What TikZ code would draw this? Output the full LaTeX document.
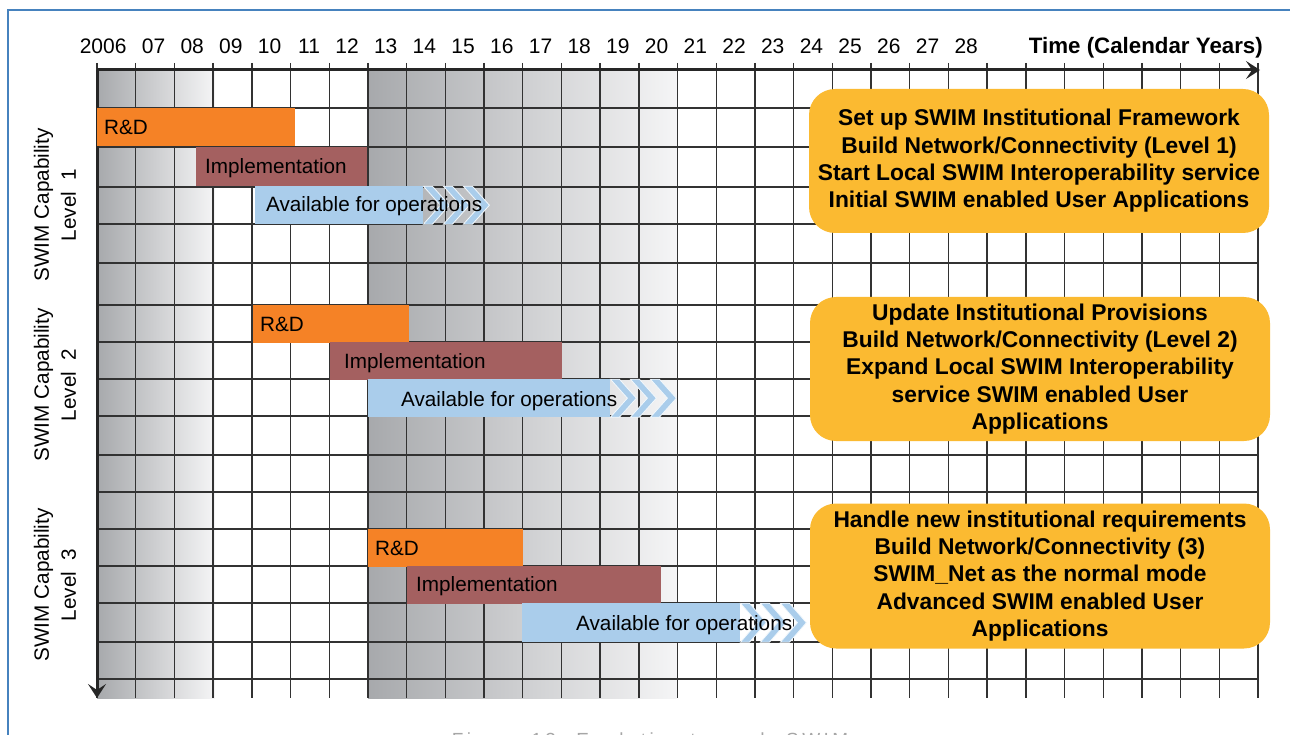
\documentclass[tikz,border=0pt]{standalone}
\usepackage{fontspec}
\setmainfont{Liberation Sans}
\newfontfamily\captionfont[LetterSpace=18]{Liberation Sans}
\usepackage{tikz}
\usetikzlibrary{positioning, arrows.meta}
\definecolor{swimorange}{RGB}{245, 130, 38}
\definecolor{swimrose}{RGB}{164, 96, 96}
\definecolor{swimblue}{RGB}{170, 205, 235}
\definecolor{swimgold}{RGB}{251, 186, 49}
\definecolor{swimgray}{RGB}{167, 169, 172}
\definecolor{swimlight}{RGB}{245, 245, 246}
\definecolor{swimgrid}{RGB}{50, 50, 50}
\definecolor{swimframe}{RGB}{70, 130, 190}
\tikzset{
    gridline/.style={draw=swimgrid, line width=1.4pt},
    axisline/.style={draw=black!85, line width=3pt, -{Stealth[length=14pt, width=18pt, inset=6pt]}},
    barbox/.style={rectangle, minimum height=38pt, inner sep=0pt, anchor=north west},
    rdbar/.style={barbox, fill=swimorange},
    implbar/.style={barbox, fill=swimrose},
    availbar/.style={barbox, fill=swimblue},
    chevron/.style={fill=swimblue, draw=white!85!swimblue, line width=0.8pt},
    bartext/.style={inner sep=0pt, font=\fontsize{20.7}{24}\selectfont},
    yearlabel/.style={anchor=base east, inner sep=0pt, font=\fontsize{21}{24}\selectfont},
    levellabel/.style={rotate=90, align=center, font=\fontsize{20.7}{27}\selectfont},
    goalbox/.style={rectangle, rounded corners=26pt, fill=swimgold, minimum width=460pt, align=center, font=\fontsize{22.8}{27.3}\selectfont\bfseries}
}

\begin{document}
\begin{tikzpicture}[x=1pt, y=-1pt]
    \useasboundingbox (0,0) rectangle (1290,735);
    \draw[swimframe, line width=1.5pt] (8,735) -- (8,10) -- (1290,10);

    % Shaded periods behind the grid
    \shade[left color=swimgray, right color=swimlight] (97,70) rectangle (215,698);
    \shade[left color=swimgray, right color=swimlight] (368,70) rectangle (677,698);

    % Grid, one column per year
    \foreach \i in {0,...,30}
        \draw[gridline] ({97+\i*38.7},63) -- ({97+\i*38.7},698);
    \foreach \y in {108,147,187,224,263,305,342,379,416,455,492,529,566,603,642,679}
        \draw[gridline] (97,\y) -- (1258,\y);
    \draw[axisline] (97,70) -- (1260,70);
    \draw[axisline] (97,70) -- (97,698);

    \foreach \yr [count=\i] in {2006,07,08,09,10,11,12,13,14,15,16,17,18,19,20,21,22,23,24,25,26,27,28}
        \node[yearlabel] (yr\i) at ({97+\i*38.7-9},54) {\yr};
    \node[anchor=base east, inner sep=0pt, font=\fontsize{22.3}{26}\selectfont\bfseries] (timeaxis) at (1263,54) {Time (Calendar Years)};

    % Level 1
    \node[rdbar, minimum width=198pt] (rd1) at (97,108) {};
    \node[implbar, minimum width=171pt, minimum height=39pt] (im1) at (196,147) {};
    \node[availbar, minimum width=168pt] (av1) at (255,186) {};
    \begin{scope}[shift={(av1.east)}]
        \foreach \a in {0,20,40}
            \path[chevron] (\a,-19) -- (\a+9,-19) -- (\a+26,0) -- (\a+9,19) -- (\a,19) -- (\a+17,0) -- cycle;
    \end{scope}
    \node[bartext, right=7pt of rd1.west] (rd1t) {R\&D};
    \node[bartext, right=9pt of im1.west, yshift=-1pt] (im1t) {Implementation};
    \node[bartext, right=11pt of av1.west, yshift=-1pt] (av1t) {Available for operations};

    % Level 2
    \node[rdbar, minimum width=156pt] (rd2) at (253,305) {};
    \node[implbar, minimum width=232pt] (im2) at (330,342) {};
    \node[availbar, minimum width=242pt] (av2) at (368,379) {};
    \begin{scope}[shift={(av2.east)}]
        \foreach \a in {0,20,40}
            \path[chevron] (\a,-19) -- (\a+9,-19) -- (\a+26,0) -- (\a+9,19) -- (\a,19) -- (\a+17,0) -- cycle;
    \end{scope}
    \node[bartext, right=7pt of rd2.west] (rd2t) {R\&D};
    \node[bartext, right=14pt of im2.west, yshift=-2pt] (im2t) {Implementation};
    \node[bartext, right=33pt of av2.west, yshift=-3pt] (av2t) {Available for operations};

    % Level 3
    \node[rdbar, minimum width=155pt] (rd3) at (368,529) {};
    \node[implbar, minimum width=254pt] (im3) at (407,566) {};
    \node[availbar, minimum width=218pt, minimum height=39pt] (av3) at (522,603) {};
    \begin{scope}[shift={(av3.east)}]
        \foreach \a in {0,20,40}
            \path[chevron] (\a,-19.5) -- (\a+9,-19.5) -- (\a+26,0) -- (\a+9,19.5) -- (\a,19.5) -- (\a+17,0) -- cycle;
    \end{scope}
    \node[bartext, right=7pt of rd3.west] (rd3t) {R\&D};
    \node[bartext, right=9pt of im3.west, yshift=-1pt] (im3t) {Implementation};
    \node[bartext, right=54pt of av3.west, yshift=-2pt] (av3t) {Available for operations};

    % What each level brings
    \node[goalbox, minimum height=144pt] (goal1) at (1039,161) {Set up SWIM Institutional Framework\\Build Network/Connectivity (Level 1)\\Start Local SWIM Interoperability service\\Initial SWIM enabled User Applications};
    \node[goalbox, minimum height=144pt] (goal2) at (1040,369) {Update Institutional Provisions\\Build Network/Connectivity (Level 2)\\Expand Local SWIM Interoperability\\service SWIM enabled User\\Applications};
    \node[goalbox, minimum height=145pt] (goal3) at (1040,576) {Handle new institutional requirements\\Build Network/Connectivity (3)\\SWIM\_Net as the normal mode\\Advanced SWIM enabled User\\Applications};

    \node[levellabel] (lvl1) at (55,205) {SWIM Capability\\Level~~1};
    \node[levellabel] (lvl2) at (55,385) {SWIM Capability\\Level~~2};
    \node[levellabel] (lvl3) at (55,585) {SWIM Capability\\Level~~3};

    \node[anchor=base, text=black!35, font=\captionfont\fontsize{19}{22}\selectfont] (caption) at (650,746) {Figure 13: Evolution towards SWIM};
\end{tikzpicture}
\end{document}
